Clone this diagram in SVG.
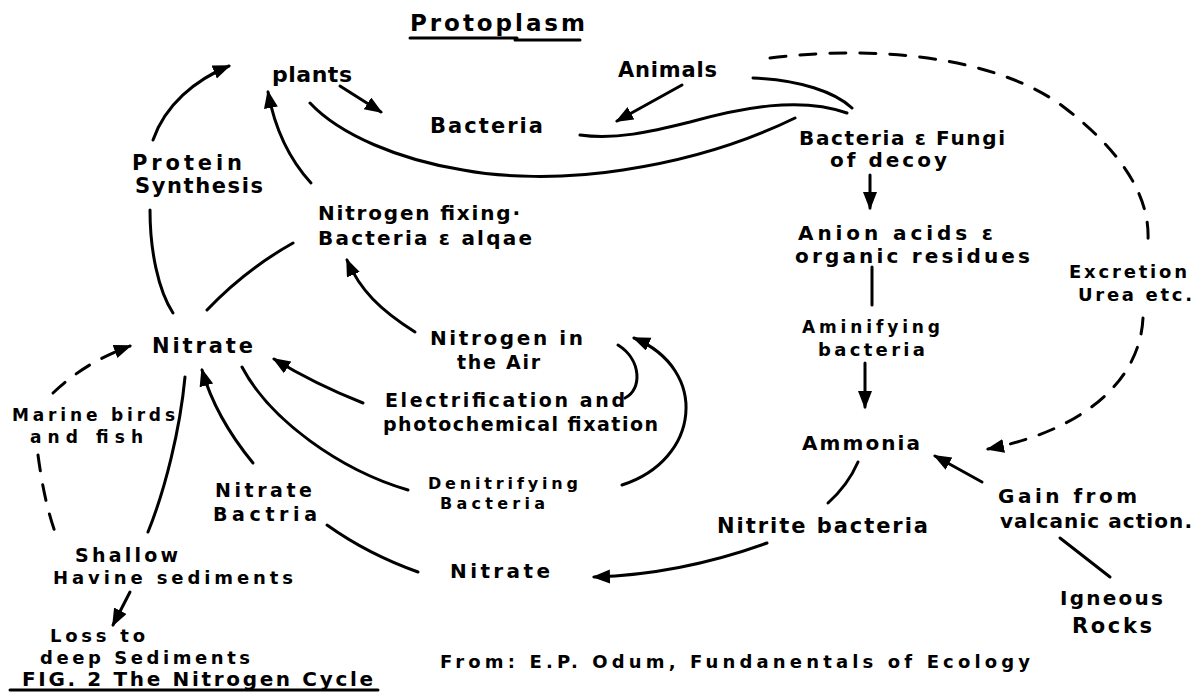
<svg xmlns="http://www.w3.org/2000/svg" width="1201" height="698" viewBox="0 0 1201 698">
<defs>
<marker id="ah" markerUnits="userSpaceOnUse" markerWidth="20" markerHeight="16" refX="16" refY="7" orient="auto">
<path d="M0,0 L18,7 L0,14 Z" fill="#000"/>
</marker>
<style>
text{font-family:"DejaVu Sans","Liberation Sans",sans-serif;font-weight:bold;font-size:20px;fill:#000}
.c{fill:none;stroke:#000;stroke-width:3;stroke-linecap:round}
.a{marker-end:url(#ah)}
.d{stroke-dasharray:16 14}
</style>
</defs>
<rect width="1201" height="698" fill="#fff"/>
<g id="connectors">
<path class="c a" d="M153,140 C165,105 195,80 229,66"/>
<path class="c a" d="M311,183 C290,160 275,130 268,92"/>
<path class="c a" d="M340,86 L381,112"/>
<path class="c" d="M310,103 C340,135 400,160 463,170 C500,177 560,180 623,170 C690,160 750,140 795,118"/>
<path class="c a" d="M682,85 L617,121"/>
<path class="c" d="M753,78 C800,80 835,92 852,108"/>
<path class="c" d="M580,135 C615,140 650,132 690,122 C740,108 800,96 847,113"/>
<path class="c a" d="M870,175 L870,208"/>
<path class="c" d="M872,267 L872,305"/>
<path class="c a" d="M865,363 L865,407"/>
<path class="c" d="M858,462 Q848,485 828,503"/>
<path class="c a" d="M982,482 L935,456"/>
<path class="c" d="M1060,538 L1110,577"/>
<path class="c a" d="M767,543 C720,560 660,575 594,577"/>
<path class="c" d="M327,525 C355,545 390,562 418,572"/>
<path class="c a" d="M253,463 C230,435 212,405 202,370"/>
<path class="c" d="M148,532 C165,490 180,430 185,377"/>
<path class="c d a" d="M53,393 C75,372 100,357 130,346"/>
<path class="c d" d="M38,455 C42,485 48,515 58,540"/>
<path class="c a" d="M130,592 L113,625"/>
<path class="c" d="M173,313 C158,290 150,250 150,210"/>
<path class="c" d="M207,310 Q245,270 293,243"/>
<path class="c a" d="M415,332 C380,310 360,290 347,260"/>
<path class="c a" d="M363,403 C330,390 300,375 274,359"/>
<path class="c" d="M242,367 C270,420 340,470 408,490"/>
<path class="c" d="M618,345 C642,360 642,390 625,398"/>
<path class="c a" d="M622,485 C700,460 710,370 634,338"/>
<path class="c d" d="M770,58 C900,42 1010,65 1065,108 C1120,150 1150,195 1148,240"/>
<path class="c d a" d="M1143,318 C1140,380 1085,430 988,449"/>
<path class="c" d="M410,38 L517,38 M515,40 L580,40"/>
<path class="c" d="M10,690 L378,690"/>
</g>
<g id="protoplasm"><text x="410" y="31" textLength="175" style="font-size:23px">Protoplasm</text></g>
<g id="plants"><text x="272" y="82" textLength="80" style="font-size:22px">plants</text></g>
<g id="animals"><text x="618" y="77" textLength="99" style="font-size:21px">Animals</text></g>
<g id="bacteria-top"><text x="430" y="133" textLength="113" style="font-size:21px">Bacteria</text></g>
<g id="bacteria-fungi"><text x="799" y="145" textLength="206">Bacteria ε Fungi</text><text x="830" y="167" textLength="117">of decoy</text></g>
<g id="protein-synthesis"><text x="132" y="170" textLength="110" style="font-size:21px">Protein</text><text x="135" y="193" textLength="128" style="font-size:21px">Synthesis</text></g>
<g id="nitrogen-fixing"><text x="318" y="220" textLength="202">Nitrogen fixing·</text><text x="318" y="245" textLength="214">Bacteria ε alqae</text></g>
<g id="anion-acids"><text x="798" y="240" textLength="195">Anion acids ε</text><text x="795" y="263" textLength="235">organic residues</text></g>
<g id="excretion"><text x="1069" y="278" textLength="118" style="font-size:18px">Excretion</text><text x="1078" y="301" textLength="114" style="font-size:18px">Urea etc.</text></g>
<g id="aminifying"><text x="802" y="333" textLength="138" style="font-size:17px">Aminifying</text><text x="818" y="356" textLength="107" style="font-size:18px">bacteria</text></g>
<g id="nitrate-left"><text x="152" y="353" textLength="101" style="font-size:21px">Nitrate</text></g>
<g id="nitrogen-air"><text x="430" y="345" textLength="153" style="font-size:20px">Nitrogen in</text><text x="457" y="369" textLength="83" style="font-size:19px">the Air</text></g>
<g id="electrification"><text x="385" y="407" textLength="240" style="font-size:19px">Electrification and</text><text x="383" y="431" textLength="275" style="font-size:19px">photochemical fixation</text></g>
<g id="denitrifying"><text x="428" y="489" textLength="150" style="font-size:16px">Denitrifying</text><text x="440" y="509" textLength="105" style="font-size:16px">Bacteria</text></g>
<g id="marine-birds"><text x="12" y="421" textLength="163" style="font-size:17px">Marine birds</text><text x="30" y="443" textLength="113" style="font-size:17px">and fish</text></g>
<g id="nitrate-bactria"><text x="215" y="497" textLength="97" style="font-size:19px">Nitrate</text><text x="213" y="521" textLength="104" style="font-size:19px">Bactria</text></g>
<g id="shallow"><text x="75" y="562" textLength="103" style="font-size:19px">Shallow</text><text x="53" y="584" textLength="240" style="font-size:18px">Havine sediments</text></g>
<g id="loss"><text x="50" y="642" textLength="95" style="font-size:18px">Loss to</text><text x="40" y="664" textLength="210" style="font-size:18px">deep Sediments</text></g>
<g id="caption"><text x="22" y="686" textLength="351" style="font-size:20px">FIG. 2  The Nitrogen Cycle</text></g>
<g id="source"><text x="440" y="668" textLength="590" style="font-size:18px">From: E.P. Odum, Fundanentals of Ecology</text></g>
<g id="nitrate-bottom"><text x="450" y="578" textLength="100">Nitrate</text></g>
<g id="nitrite-bacteria"><text x="717" y="533" textLength="211" style="font-size:21px">Nitrite bacteria</text></g>
<g id="ammonia"><text x="802" y="450" textLength="118">Ammonia</text></g>
<g id="gain-volcanic"><text x="998" y="503" textLength="139" style="font-size:20px">Gain from</text><text x="1000" y="528" textLength="192" style="font-size:20px">valcanic action.</text></g>
<g id="igneous"><text x="1060" y="605" textLength="103" style="font-size:20px">Igneous</text><text x="1072" y="633" textLength="80" style="font-size:21px">Rocks</text></g>
</svg>
